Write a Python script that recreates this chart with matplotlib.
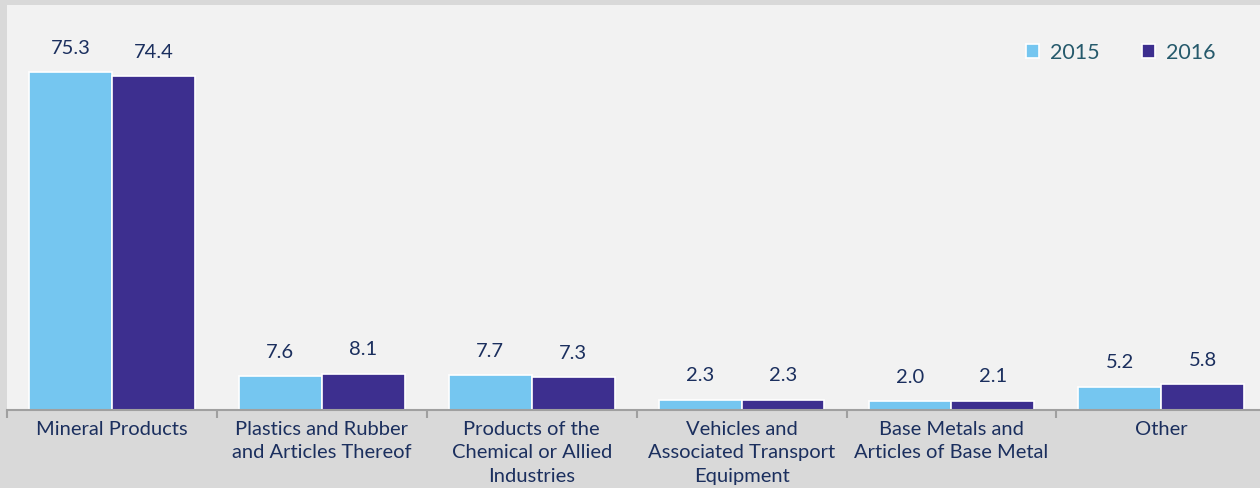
import matplotlib
matplotlib.use("Agg")
import matplotlib.pyplot as plt
import numpy as np

categories = ["Mineral Products", "Plastics and Rubber\nand Articles Thereof",
              "Products of the\nChemical or Allied\nIndustries",
              "Vehicles and\nAssociated Transport\nEquipment",
              "Base Metals and\nArticles of Base Metal", "Other"]
series_names = ["2015", "2016"]
values_2015 = [75.3, 7.6, 7.7, 2.3, 2.0, 5.2]
values_2016 = [74.4, 8.1, 7.3, 2.3, 2.1, 5.8]
colors = ["#75c6f0", "#3d2f8f"]

plt.rcParams['font.family'] = ['Lato', 'DejaVu Sans']
text_color = "#1b2f5e"

fig = plt.figure(figsize=(12.6, 4.88), dpi=100, facecolor="#d9d9d9")
ax = fig.add_axes([7/1260, 78/488, 1 - 7/1260 + 0.005, 405/488])
ax.set_facecolor("#f2f2f2")

x = np.arange(len(categories))
w = 0.395
for i, (vals, name) in enumerate(zip([values_2015, values_2016], series_names)):
    pos = x + (i - 0.5) * w
    bars = ax.bar(pos, vals, width=w, color=colors[i], edgecolor="white",
                  linewidth=1.2, label=name, zorder=2)
    for b, v in zip(bars, vals):
        ax.annotate(f"{v:.1f}", (b.get_x() + b.get_width() / 2, v),
                    xytext=(0, 11), textcoords="offset points",
                    ha="center", va="bottom", fontsize=14.5, color=text_color)

ax.set_xlim(-0.5, 5.5)
ax.set_ylim(0, 90.2)
ax.set_yticks([])
for s in ["top", "right", "left"]:
    ax.spines[s].set_visible(False)
ax.spines["bottom"].set_color("#a0a0a0")
ax.spines["bottom"].set_linewidth(1.5)

ax.set_xticks(np.arange(-0.5, 5.5, 1.0), minor=False)
ax.set_xticklabels([])
ax.tick_params(axis="x", which="major", length=6, width=1.5, color="#a0a0a0")
ax.set_xticks(x, minor=True)
ax.set_xticklabels(categories, minor=True, fontsize=14.5, color=text_color,
                   linespacing=1.45)
ax.tick_params(axis="x", which="minor", length=0, pad=8)

leg = ax.legend(loc="upper right", bbox_to_anchor=(0.975, 0.955), ncol=2, frameon=False,
                fontsize=15.5, handlelength=0.6, handleheight=0.6, columnspacing=2.0,
                handletextpad=0.5, labelcolor="#265a6c")

fig.savefig("out.png", dpi=100, facecolor=fig.get_facecolor())
